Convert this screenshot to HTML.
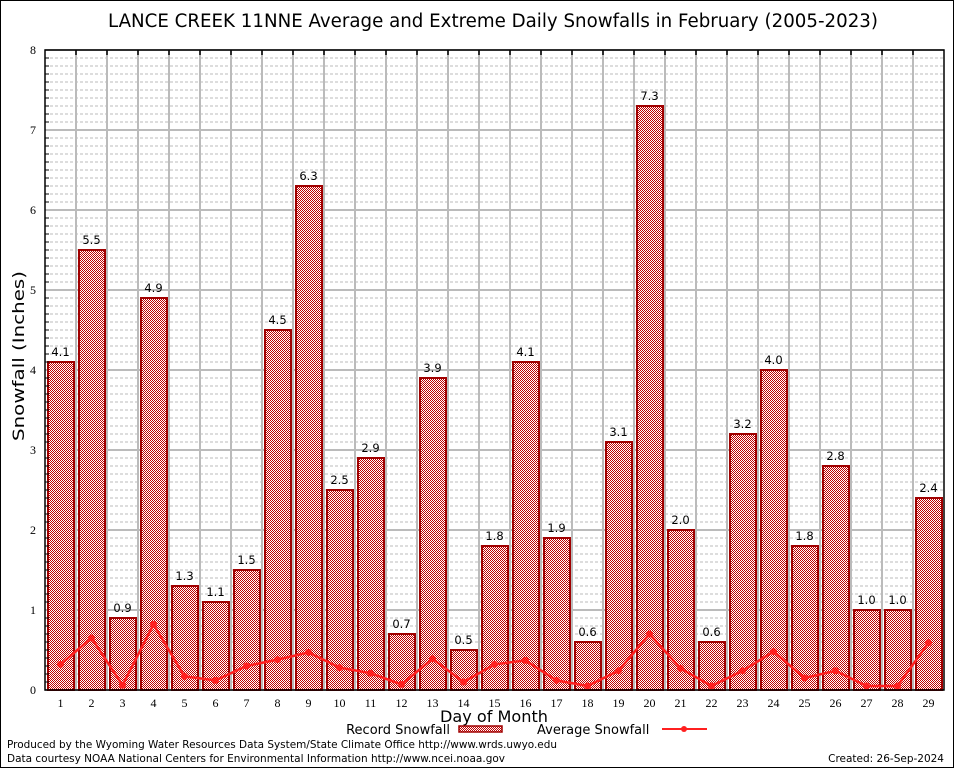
<!DOCTYPE html>
<html><head><meta charset="utf-8"><style>
body{margin:0;background:#fff}
svg{display:block;font-family:"DejaVu Sans","Liberation Sans",sans-serif}
</style></head><body>
<svg id="chart" width="954" height="768" xmlns="http://www.w3.org/2000/svg">
<defs>
<pattern id="chk" x="0" y="0" width="2" height="2" patternUnits="userSpaceOnUse">
<rect width="2" height="2" fill="#fff" shape-rendering="crispEdges"/>
<rect width="1" height="1" fill="#c00000" shape-rendering="crispEdges"/>
<rect x="1" y="1" width="1" height="1" fill="#c00000" shape-rendering="crispEdges"/>
</pattern>
</defs>
<rect x="0.5" y="0.5" width="953" height="767" fill="#fff" stroke="#000"/>
<text x="493" y="27" font-size="18.5" text-anchor="middle" textLength="770" lengthAdjust="spacingAndGlyphs">LANCE CREEK 11NNE Average and Extreme Daily Snowfalls in February (2005-2023)</text>
<g id="grid"></g>
<g id="bars"></g>
<g id="avg"></g>
<g id="axes"></g>
<text x="24" y="356" font-size="16" text-anchor="middle" transform="rotate(-90 24 356)" textLength="170" lengthAdjust="spacingAndGlyphs">Snowfall (Inches)</text>
<text x="494" y="722" font-size="16" text-anchor="middle" textLength="108" lengthAdjust="spacingAndGlyphs">Day of Month</text>
<g>
<text x="450" y="734" font-size="13" text-anchor="end">Record Snowfall</text>
<rect x="459" y="726" width="43" height="6" fill="url(#chk)" stroke="#a00000" stroke-width="1.5"/>
</g>
<g>
<text x="537" y="734" font-size="13">Average Snowfall</text>
<line x1="662" y1="729" x2="707" y2="729" stroke="#ff2020" stroke-width="2"/>
<circle cx="684" cy="729" r="3" fill="#ff2020"/>
</g>
<text x="7" y="748" font-size="10.5" textLength="550" lengthAdjust="spacingAndGlyphs">Produced by the Wyoming Water Resources Data System/State Climate Office http://www.wrds.uwyo.edu</text>
<text x="7" y="762" font-size="10.5" textLength="498" lengthAdjust="spacingAndGlyphs">Data courtesy NOAA National Centers for Environmental Information http://www.ncei.noaa.gov</text>
<text x="944" y="762" font-size="10.5" text-anchor="end">Created: 26-Sep-2024</text>
</svg>
<script>
const days = [1,2,3,4,5,6,7,8,9,10,11,12,13,14,15,16,17,18,19,20,21,22,23,24,25,26,27,28,29];
const recordSnow = [4.1,5.5,0.9,4.9,1.3,1.1,1.5,4.5,6.3,2.5,2.9,0.7,3.9,0.5,1.8,4.1,1.9,0.6,3.1,7.3,2.0,0.6,3.2,4.0,1.8,2.8,1.0,1.0,2.4];
const avgSnow = [0.32,0.65,0.06,0.82,0.17,0.12,0.30,0.38,0.47,0.28,0.21,0.07,0.39,0.10,0.32,0.37,0.12,0.05,0.24,0.70,0.27,0.05,0.24,0.48,0.15,0.24,0.05,0.05,0.59];
const yTicks = [0,1,2,3,4,5,6,7,8];

const L=45,R=944,T=50,B=690,yMax=8;
const slot=(R-L)/days.length;
const xC=d=>L+slot*(d-0.5);
const y=v=>B-(v/yMax)*(B-T);
const NS="http://www.w3.org/2000/svg";
function mk(tag,attrs,parent){const e=document.createElementNS(NS,tag);for(const k in attrs)e.setAttribute(k,attrs[k]);parent.appendChild(e);return e;}
const grid=document.getElementById('grid'),bars=document.getElementById('bars'),avg=document.getElementById('avg'),axes=document.getElementById('axes');

for(let i=0;i<yMax*10;i++){
  if(i%10===0)continue;
  const g=mk('line',{x1:L,x2:R,y1:y(i/10),y2:y(i/10),stroke:'#bbb','stroke-dasharray':'3,2','stroke-width':1},grid);
  
  
  const t=mk('line',{x1:L,x2:L+4,y1:y(i/10),y2:y(i/10),stroke:'#000'},axes);
  
  
}
yTicks.forEach(v=>{
  const g=mk('line',{x1:L,x2:R,y1:y(v),y2:y(v),stroke:'#bbb','stroke-width':2},grid);
  
  
  const t=mk('text',{x:L-9,y:y(v)+4,'font-size':12,'text-anchor':'end','font-family':'Liberation Serif, serif'},axes);
  t.textContent=v;
  
  
});
for(let k=1;k<days.length;k++){
  const xx=L+slot*k;
  const g=mk('line',{x1:xx,x2:xx,y1:T,y2:B,stroke:'#bbb','stroke-width':2},grid);
  
  
  const t=mk('line',{x1:xx,x2:xx,y1:T,y2:T+5,stroke:'#000','stroke-width':1.5},axes);
  
  
}
days.forEach((d,i)=>{
  const v=recordSnow[i];
  const x0=Math.round(xC(d)-13), y0=Math.round(y(v));
  const r=mk('rect',{x:x0,y:y0,width:26,height:B-y0,fill:'url(#chk)',stroke:'#a00000','stroke-width':2},bars);
  
  
  const t=mk('text',{x:xC(d),y:y(v)-6,'font-size':11.5,'text-anchor':'middle'},bars);
  t.textContent=v.toFixed(1);
  
  
  const xl=mk('text',{x:xC(d),y:B+17,'font-size':12,'text-anchor':'middle','font-family':'Liberation Serif, serif'},axes);
  xl.textContent=d;
  
  
});
const pl=mk('polyline',{points:days.map((d,i)=>xC(d)+','+y(avgSnow[i])).join(' '),fill:'none',stroke:'#ff2020','stroke-width':2.5},avg);


days.forEach((d,i)=>{
  const c=mk('circle',{cx:xC(d),cy:y(avgSnow[i]),r:3.5,fill:'#ff2020'},avg);
  
  
});
const fr=mk('rect',{x:L,y:T,width:R-L,height:B-T,fill:'none',stroke:'#000','stroke-width':1.5},axes);


</script>
</body></html>
